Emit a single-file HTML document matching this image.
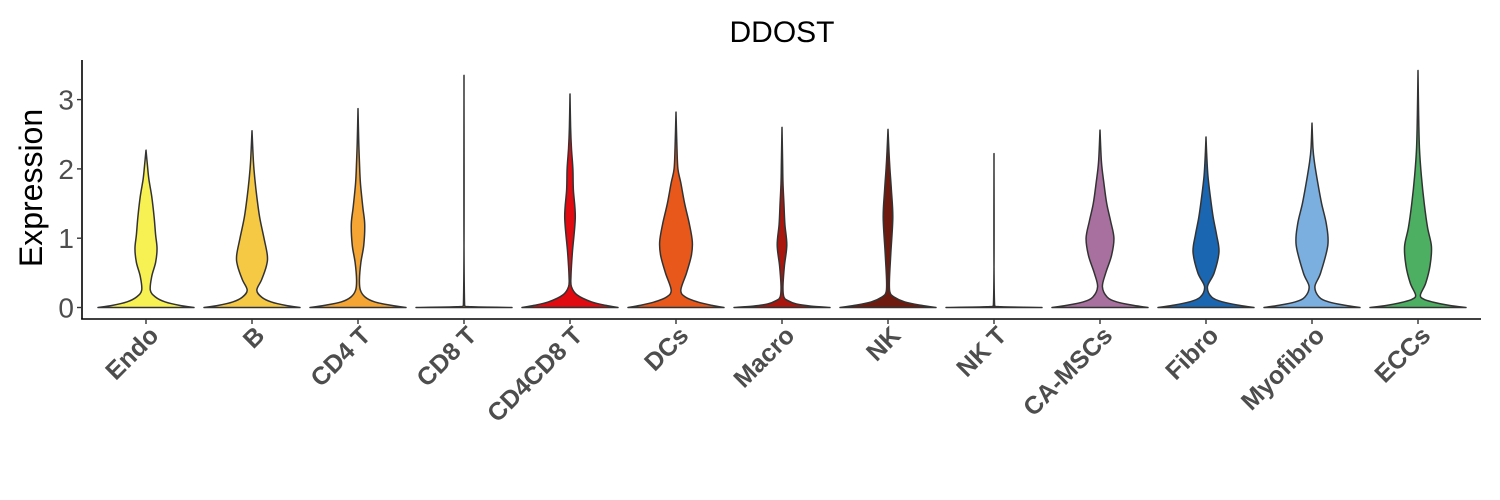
<!DOCTYPE html>
<html><head><meta charset="utf-8"><style>
html,body{margin:0;padding:0;background:#fff;}
svg{display:block;font-family:"Liberation Sans",Arial,sans-serif;}
</style></head><body>
<svg id="chart" width="1500" height="500" viewBox="0 0 1500 500">
<text x="782" y="42" font-size="30" text-anchor="middle" fill="#000">DDOST</text>
<text transform="translate(42,188) rotate(-90)" font-size="32" text-anchor="middle" fill="#000">Expression</text>
<g id="violins"></g>
<g id="axes"></g>
</svg>
<script>
const categories = ["Endo","B","CD4 T","CD8 T","CD4CD8 T","DCs","Macro","NK","NK T","CA-MSCs","Fibro","Myofibro","ECCs"];
const colors = ["#F8F154","#F6C945","#F4A534","#F4A534","#E00B10","#E8581A","#A8160E","#6E1A0E","#6E1A0E","#A8709F","#1B66B1","#7AAFDF","#4CAF61"];
// density profiles: expression levels and relative half-widths (max 1)
const levels = [
 [0,0.03,0.08,0.15,0.25,0.45,0.65,0.85,1.05,1.3,1.6,1.85,2.05,2.27],
 [0,0.03,0.08,0.15,0.25,0.4,0.6,0.75,1.0,1.3,1.6,1.85,2.1,2.55],
 [0,0.03,0.08,0.15,0.25,0.4,0.65,0.9,1.2,1.45,1.8,2.1,2.4,2.87],
 [0,0.01,0.03,3.35],
 [0,0.03,0.08,0.18,0.3,0.45,0.8,1.3,1.7,2.0,2.3,2.6,3.08],
 [0,0.03,0.08,0.15,0.25,0.5,0.75,0.95,1.2,1.5,1.8,2.0,2.3,2.82],
 [0,0.02,0.05,0.1,0.15,0.3,0.6,0.9,1.2,1.5,1.8,2.1,2.6],
 [0,0.03,0.08,0.15,0.22,0.4,0.8,1.3,1.7,2.0,2.25,2.57],
 [0,0.01,0.03,2.22],
 [0,0.03,0.08,0.15,0.3,0.5,0.75,1.0,1.25,1.5,1.8,2.1,2.56],
 [0,0.03,0.08,0.15,0.3,0.5,0.8,1.05,1.3,1.6,1.9,2.2,2.46],
 [0,0.03,0.08,0.15,0.3,0.5,0.9,1.2,1.5,1.8,2.1,2.3,2.66],
 [0,0.03,0.08,0.12,0.18,0.35,0.6,0.88,1.15,1.5,1.9,2.3,2.8,3.42]
];
const widths = [
 [1,0.7,0.4,0.2,0.09,0.12,0.2,0.23,0.2,0.17,0.12,0.06,0.03,0],
 [1,0.7,0.4,0.2,0.1,0.2,0.3,0.32,0.25,0.16,0.1,0.06,0.03,0],
 [1,0.7,0.35,0.15,0.05,0.03,0.06,0.12,0.14,0.1,0.05,0.03,0.015,0],
 [1,0.15,0.01,0],
 [1,0.75,0.45,0.15,0.03,0.02,0.05,0.11,0.07,0.06,0.03,0.01,0],
 [1,0.75,0.45,0.2,0.1,0.22,0.32,0.34,0.28,0.18,0.1,0.04,0.02,0],
 [1,0.6,0.3,0.12,0.04,0.02,0.05,0.1,0.06,0.04,0.02,0.01,0],
 [1,0.7,0.35,0.13,0.04,0.03,0.06,0.1,0.07,0.04,0.02,0],
 [1,0.15,0.01,0],
 [1,0.7,0.35,0.15,0.05,0.12,0.24,0.29,0.22,0.14,0.08,0.03,0],
 [1,0.7,0.35,0.12,0.03,0.17,0.27,0.22,0.15,0.09,0.04,0.015,0],
 [1,0.7,0.35,0.15,0.06,0.18,0.33,0.3,0.2,0.12,0.05,0.02,0],
 [1,0.65,0.3,0.12,0.05,0.16,0.25,0.28,0.2,0.13,0.07,0.03,0.01,0]
];
const yTicks = [0,1,2,3];

const NS="http://www.w3.org/2000/svg";
const x0=146, step=106, halfMax=48;
const xScale=i=>x0+i*step;
const yScale=v=>307.5-v*69.3;
const base=yScale(0);
function mk(t,a){const e=document.createElementNS(NS,t);for(const k in a)e.setAttribute(k,a[k]);return e;}
function smooth(pts){
  let d="M"+pts[0][0]+","+pts[0][1];
  for(let i=0;i<pts.length-1;i++){
    const p0=pts[Math.max(0,i-1)],p1=pts[i],p2=pts[i+1],p3=pts[Math.min(pts.length-1,i+2)];
    let c1=[p1[0]+(p2[0]-p0[0])/6,p1[1]+(p2[1]-p0[1])/6];
    let c2=[p2[0]-(p3[0]-p1[0])/6,p2[1]-(p3[1]-p1[1])/6];
    const lo=Math.min(p1[1],p2[1]), hi=Math.max(p1[1],p2[1]);
    c1[1]=Math.min(Math.max(c1[1],lo),hi); c2[1]=Math.min(Math.max(c2[1],lo),hi);
    const lx=Math.min(p1[0],p2[0]), hx=Math.max(p1[0],p2[0]);
    if(Math.abs(c1[0]-p1[0])>Math.abs(p2[0]-p1[0])+2) c1[0]=p1[0];
    if(Math.abs(c2[0]-p2[0])>Math.abs(p2[0]-p1[0])+2) c2[0]=p2[0];
    d+=` C${c1[0].toFixed(2)},${c1[1].toFixed(2)} ${c2[0].toFixed(2)},${c2[1].toFixed(2)} ${p2[0].toFixed(2)},${p2[1].toFixed(2)}`;
  }
  return d;
}
const vg=document.getElementById('violins');
categories.forEach((c,i)=>{
  const cx=xScale(i), L=levels[i], W=widths[i];
  const right=L.map((v,j)=>[cx+Math.max(W[j]*halfMax,0.6),yScale(v)]);
  right[right.length-1][0]=cx;
  const left=L.map((v,j)=>[cx-Math.max(W[j]*halfMax,0.6),yScale(v)]).reverse();
  left[0][0]=cx;
  let d=smooth(right)+" "+smooth(left).replace(/^M[^C]*/,"")+" Z";
  const p=mk('path',{d:d,fill:colors[i],stroke:"#333",'stroke-width':1.5,'stroke-linejoin':'round'});
  
  
  vg.appendChild(p);
});
const ag=document.getElementById('axes');
const yAxis=mk('line',{x1:82,y1:60,x2:82,y2:319.5,stroke:"#000",'stroke-width':1.6});


ag.appendChild(yAxis);
const xAxis=mk('line',{x1:81.2,y1:319,x2:1481,y2:319,stroke:"#000",'stroke-width':1.6});


ag.appendChild(xAxis);
yTicks.forEach(t=>{
  const y=yScale(t);
  const l=mk('line',{x1:77,y1:y,x2:82,y2:y,stroke:"#333",'stroke-width':1.4});
  
  
  ag.appendChild(l);
  const tx=mk('text',{x:74,y:y+10,'font-size':28,'text-anchor':'end',fill:"#4d4d4d"});
  tx.textContent=t;
  
  
  ag.appendChild(tx);
});
categories.forEach((c,i)=>{
  const x=xScale(i);
  const l=mk('line',{x1:x,y1:319,x2:x,y2:324,stroke:"#333",'stroke-width':1.4});
  
  
  ag.appendChild(l);
  const tx=mk('text',{transform:`translate(${x+14},${337}) rotate(-45)`,'font-size':25,'font-weight':'bold','text-anchor':'end',fill:"#4d4d4d"});
  tx.textContent=c;
  
  
  ag.appendChild(tx);
});
</script>
</body></html>
